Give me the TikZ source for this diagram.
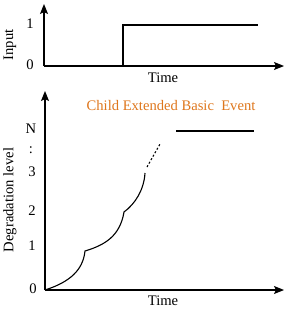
\documentclass[tikz,border=0pt]{standalone}
\usepackage{fontspec}
\setmainfont{Liberation Serif}
\usetikzlibrary{arrows.meta,positioning}
\definecolor{cebeorange}{RGB}{222,118,28}

\begin{document}
\begin{tikzpicture}[
    x=1pt, y=-1pt,
    axis/.style={-{Stealth[length=10pt,width=8pt,inset=2pt]}, line width=1.1pt},
    sig/.style={line width=1.1pt},
    lbl/.style={font=\fontsize{14.6}{16}\selectfont, inner sep=1pt},
    ylbl/.style={lbl, rotate=90}
]
    \useasboundingbox (0,0) rectangle (290,322);
    % upper plot: input signal
    \coordinate (o1) at (44,66);
    \coordinate (y1) at (44,4);
    \coordinate (x1) at (284,66);
    \draw[axis] (o1) -- (y1);
    \draw[axis] (o1) -- (x1);
    \coordinate (s0) at (123,66);
    \coordinate (s1) at (123,25);
    \coordinate (s2) at (258,25);
    \draw[sig] (s0) -- (s1) -- (s2);
    \node[lbl] (in0) at (30,65) {0};
    \node[lbl] (in1) at (30,24) {1};
    \node[ylbl] (inp) at (10,45) {Input};
    \node[lbl] (t1) at (163,78) {Time};
    % lower plot: degradation level
    \coordinate (o2) at (45,290);
    \coordinate (y2) at (45,91);
    \coordinate (x2) at (284,290);
    \draw[axis] (o2) -- (y2);
    \draw[axis] (o2) -- (x2);
    \node[lbl] (d0) at (33,289) {0};
    \node[lbl] (d1) at (32,246) {1};
    \node[lbl] (d2) at (32,211) {2};
    \node[lbl] (d3) at (32,172) {3};
    \node[lbl] (dd) at (31,150) {:};
    \node[lbl] (dN) at (31,129) {N};
    \node[ylbl] (deg) at (10,200) {Degradation level};
    \node[lbl] (t2) at (163,301) {Time};
    \coordinate (k1) at (85,251);
    \coordinate (k2) at (124,212);
    \coordinate (k3) at (145,173);
    \draw[sig] (o2) .. controls (70,282) and (83,270) .. (k1)
        .. controls (105,245) and (120,236) .. (k2)
        .. controls (135,204) and (144,190) .. (k3);
    \draw[sig, dash pattern=on 2pt off 2pt] (147,167) -- (160,144);
    \draw[sig] (176,131) -- (254,131);
    \node[lbl, text=cebeorange] (cebe) at (171,106) {Child Extended Basic\ \ Event};
\end{tikzpicture}
\end{document}
